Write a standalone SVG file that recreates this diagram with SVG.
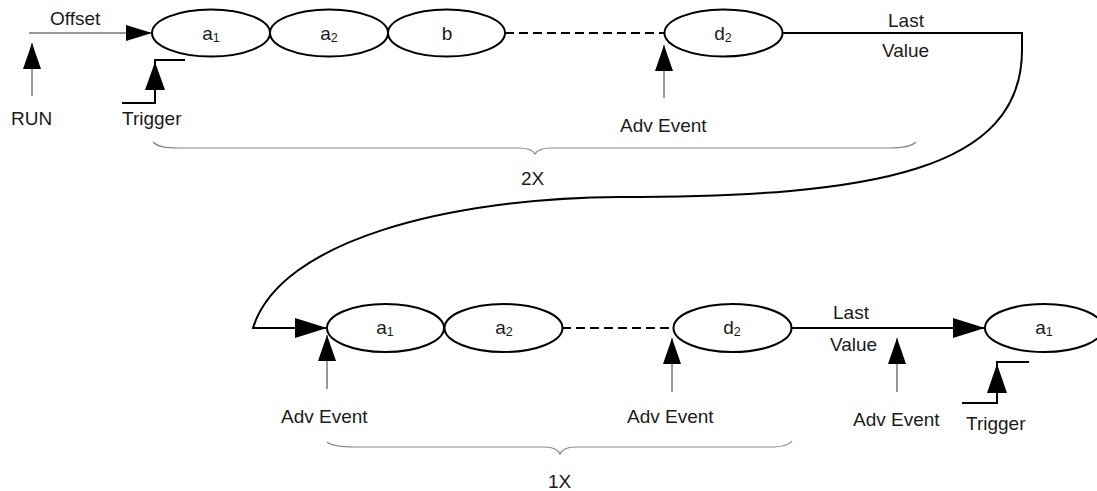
<svg xmlns="http://www.w3.org/2000/svg" width="1097" height="491" viewBox="0 0 1097 491">
<style>
text{font-family:"Liberation Sans",Arial,sans-serif;font-size:19px;fill:#1a1a1a}
.sub{font-size:12.5px}
.node{fill:#fff;stroke:#000;stroke-width:2}
.thick{fill:none;stroke:#000;stroke-width:2}
.dash{fill:none;stroke:#000;stroke-width:2;stroke-dasharray:9,5}
.thin{fill:none;stroke:#333;stroke-width:1}
.brace{fill:none;stroke:#888;stroke-width:1.2}
.tri{fill:#000}
</style>
<defs>
<marker id="ahS" markerUnits="userSpaceOnUse" markerWidth="26" markerHeight="16" viewBox="0 0 26 16" refX="26" refY="8" orient="auto"><path d="M0,0 L26,8 L0,16 Z" fill="#000"/></marker>
<marker id="ahM" markerUnits="userSpaceOnUse" markerWidth="26" markerHeight="18" viewBox="0 0 26 18" refX="26" refY="9" orient="auto"><path d="M0,0 L26,9 L0,18 Z" fill="#000"/></marker>
<marker id="ahL" markerUnits="userSpaceOnUse" markerWidth="32" markerHeight="20" viewBox="0 0 32 20" refX="32" refY="10" orient="auto"><path d="M0,0 L32,10 L0,20 Z" fill="#000"/></marker>
</defs>

<g id="connectors">
<line class="thin" x1="29" y1="33" x2="152" y2="33" marker-end="url(#ahS)"/>
<line class="dash" x1="505" y1="33" x2="664" y2="33"/>
<path class="thick" d="M782,33 H1022 V50 C1022,170 875,197 620,197 C450,198 280,240 253,328 H327" marker-end="url(#ahL)"/>
<line class="dash" x1="562" y1="328" x2="673" y2="328"/>
<line class="thick" x1="791" y1="328" x2="985" y2="328" marker-end="url(#ahL)"/>
<line class="thin" x1="32" y1="96" x2="32" y2="43" marker-end="url(#ahM)"/>
<line class="thin" x1="664" y1="98" x2="664" y2="45" marker-end="url(#ahM)"/>
<line class="thin" x1="327" y1="389" x2="327" y2="335" marker-end="url(#ahM)"/>
<line class="thin" x1="672" y1="392" x2="672" y2="338" marker-end="url(#ahM)"/>
<line class="thin" x1="897" y1="392" x2="897" y2="338" marker-end="url(#ahM)"/>
</g>

<g id="trigger-top">
<polyline class="thick" points="122,103 155,103 155,60 185,60"/>
<polygon class="tri" points="155,62 165,90 145,90"/>
<text x="122" y="125">Trigger</text>
</g>
<g id="trigger-bottom">
<polyline class="thick" points="962,403 997,403 997,362 1029,362"/>
<polygon class="tri" points="997,364 1007,393 987,393"/>
<text x="966" y="430">Trigger</text>
</g>

<g id="n-a1-top"><ellipse class="node" cx="211" cy="33" rx="59" ry="23.5"/><text x="211" y="40" text-anchor="middle">a<tspan class="sub" dy="1.5">1</tspan></text></g>
<g id="n-a2-top"><ellipse class="node" cx="329" cy="33" rx="59" ry="23.5"/><text x="329" y="40" text-anchor="middle">a<tspan class="sub" dy="1.5">2</tspan></text></g>
<g id="n-b-top"><ellipse class="node" cx="446.5" cy="33" rx="58.5" ry="23.5"/><text x="447" y="40" text-anchor="middle">b</text></g>
<g id="n-d2-top"><ellipse class="node" cx="723.5" cy="33" rx="59" ry="23.5"/><text x="723" y="40" text-anchor="middle">d<tspan class="sub" dy="1.5">2</tspan></text></g>

<g id="n-a1-bot"><ellipse class="node" cx="385.5" cy="328" rx="58.5" ry="24"/><text x="385" y="334" text-anchor="middle">a<tspan class="sub" dy="1.5">1</tspan></text></g>
<g id="n-a2-bot"><ellipse class="node" cx="503.5" cy="328" rx="59" ry="24"/><text x="504" y="334" text-anchor="middle">a<tspan class="sub" dy="1.5">2</tspan></text></g>
<g id="n-d2-bot"><ellipse class="node" cx="732.5" cy="328" rx="59" ry="24"/><text x="732" y="334" text-anchor="middle">d<tspan class="sub" dy="1.5">2</tspan></text></g>
<g id="n-a1-next"><ellipse class="node" cx="1044" cy="328" rx="59" ry="24"/><text x="1044" y="334" text-anchor="middle">a<tspan class="sub" dy="1.5">1</tspan></text></g>

<g id="labels">
<text x="50" y="25">Offset</text>
<text x="11" y="125">RUN</text>
<text x="620" y="132">Adv Event</text>
<text x="888" y="27">Last</text>
<text x="882" y="57">Value</text>
<text x="521" y="185">2X</text>
<text x="281" y="423">Adv Event</text>
<text x="627" y="423">Adv Event</text>
<text x="853" y="426">Adv Event</text>
<text x="833" y="319">Last</text>
<text x="830" y="351">Value</text>
<text x="548" y="488">1X</text>
</g>

<g id="braces">
<path class="brace" d="M153,142 C158,147 165,148 180,148 L518,148 C528,148 533,150 535,154 C537,150 542,148 552,148 L890,148 C905,148 912,146 916,142"/>
<path class="brace" d="M327,442 C332,446 340,447 355,447 L545,447 C554,447 558,450 560,454 C562,450 566,447 575,447 L770,447 C783,447 789,445 792,441"/>
</g>
</svg>
